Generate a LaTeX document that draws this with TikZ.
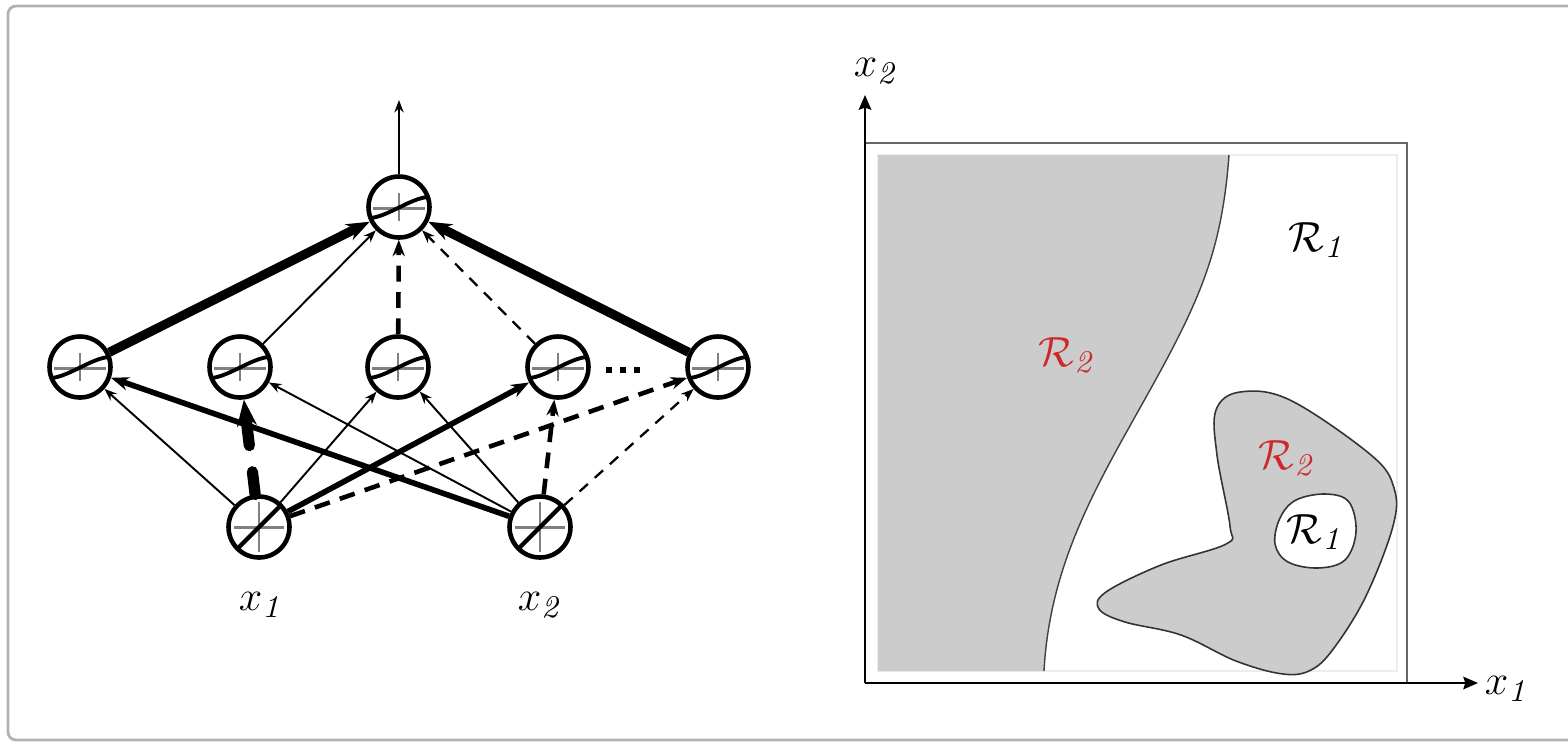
\documentclass[tikz,border=0pt]{standalone}
\usepackage{amsmath,amssymb}
\usetikzlibrary{arrows.meta,calc}
\definecolor{regred}{RGB}{204,42,42}
\tikzset{>={Stealth[length=2.7pt 1.5]},every node/.style={font=\fontsize{13}{15}\selectfont},
  gcross/.style={draw=black!50,line width=.85pt},
  unit/.style={circle,draw,line width=1.3pt,minimum size=6.1mm,inner sep=0pt},
  hid/.style={unit,path picture={\begin{scope}[shift={(path picture bounding box.center)}]
    \draw[gcross] (-2.6mm,-.1mm)--(2.6mm,-.1mm) (0,-1.4mm)--(0,1.4mm);
    \draw[line width=1.1pt] (-2.9mm,-1.1mm)..controls (-1.2mm,-1mm) and (1.2mm,.9mm)..(2.9mm,1mm);\end{scope}}},
  inp/.style={unit,path picture={\begin{scope}[shift={(path picture bounding box.center)}]
    \draw[gcross] (-2.5mm,0)--(2.5mm,0) (0,-2.5mm)--(0,2.5mm);
    \draw[line width=1.2pt] (-2.4mm,-2.4mm)--(2.4mm,2.4mm);\end{scope}}},
  pos1/.style={line width=.55pt,->},pos2/.style={line width=1.6pt,->},pos3/.style={line width=2.6pt,->},
  neg1/.style={line width=.65pt,dash pattern=on 3.2pt off 2.6pt,->},
  neg2/.style={line width=1.3pt,dash pattern=on 4.5pt off 3pt,->},
  neg3/.style={line width=3.2pt,dash pattern=on 6.5pt off 7.5pt,line cap=round,->},
  axis/.style={line width=.5pt,-{Stealth[length=4.2pt,width=3.6pt,inset=.6pt]}}}
\begin{document}
\begin{tikzpicture}[x=.1mm,y=-.1mm]
\useasboundingbox (0,0) rectangle (1568,743);
\draw[black!30,line width=.8pt,rounded corners=.8mm] (1568,6)--(8,6)--(8,740)--(1568,740);
% network
\node[hid] (out) at (399,207) {};
\foreach \n/\x in {1/80,2/240,3/398,4/558,5/718}{\node[hid] (h\n) at (\x,367) {};}
\node[inp] (x1) at (259,527) {};\node[inp] (x2) at (540,527) {};
\node (l1) at (262,605) {$x_{\mathit{1}}$};\node (l2) at (541,605) {$x_{\mathit{2}}$};
\coordinate (y) at (399,100);\draw[pos1] (out)--(y);
\foreach \a/\b/\s in {x1/h1/pos1,x1/h3/pos1,x1/h4/pos2,x1/h5/neg2,x2/h1/pos2,x2/h2/pos1,x2/h3/pos1,x2/h4/neg2,x2/h5/neg1,
  h1/out/pos3,h2/out/pos1,h3/out/neg2,h4/out/neg1,h5/out/pos3,x1/h2/neg3}{\draw[\s] (\a)--(\b);}
\coordinate (d1) at (606,370);\coordinate (d2) at (642,370);
\draw[line width=1.5pt,dash pattern=on 1.6pt off 2.4pt] (d1)--(d2);
% decision regions
\draw[black!7,line width=.4pt] (878,155) rectangle (1397,671);
\fill[black!20] (878,155)--(1229,155)..controls (1222,250) and (1200,300)..(1150,390)
  ..controls (1100,480) and (1050,560)..(1044,671)--(878,671)--cycle;
\draw[black!75,line width=.4pt] (1229,155)..controls (1222,250) and (1200,300)..(1150,390)
  ..controls (1100,480) and (1050,560)..(1044,671);
\draw[black!80,line width=.45pt,fill=black!20] plot[smooth cycle,tension=.6] coordinates {(1216,410) (1240,392) (1290,400) (1371,455)
  (1394,488) (1393,526) (1366,596) (1334,648) (1311,670) (1283,674) (1236,661) (1181,635) (1125,622) (1099,609) (1106,592)
  (1161,565) (1226,544) (1230,526) (1217,455)};
\draw[black!80,line width=.45pt,fill=white] plot[smooth cycle,tension=.6] coordinates {(1296,500) (1326,494) (1349,502) (1356,532)
  (1345,560) (1318,568) (1288,562) (1275,544) (1280,518)};
\draw[black!60,line width=.45pt] (865,143)--(1407,143)--(1407,683);
\coordinate (o) at (865,683);\coordinate (ax) at (1478,683);\coordinate (ay) at (865,95);
\draw[axis] (o)--(ax);\draw[axis] (o)--(ay);
\node (lx1) at (1508,689) {$x_{\mathit{1}}$};\node (lx2) at (877,71) {$x_{\mathit{2}}$};
\node (ra) at (1318,240) {$\mathcal{R}_{\mathit{1}}$};
\node[regred] (rb) at (1068,355) {$\mathcal{R}_{\mathit{2}}$};
\node[regred] (rc) at (1288,458) {$\mathcal{R}_{\mathit{2}}$};
\node (rd) at (1316,532) {$\mathcal{R}_{\mathit{1}}$};
\end{tikzpicture}
\end{document}
